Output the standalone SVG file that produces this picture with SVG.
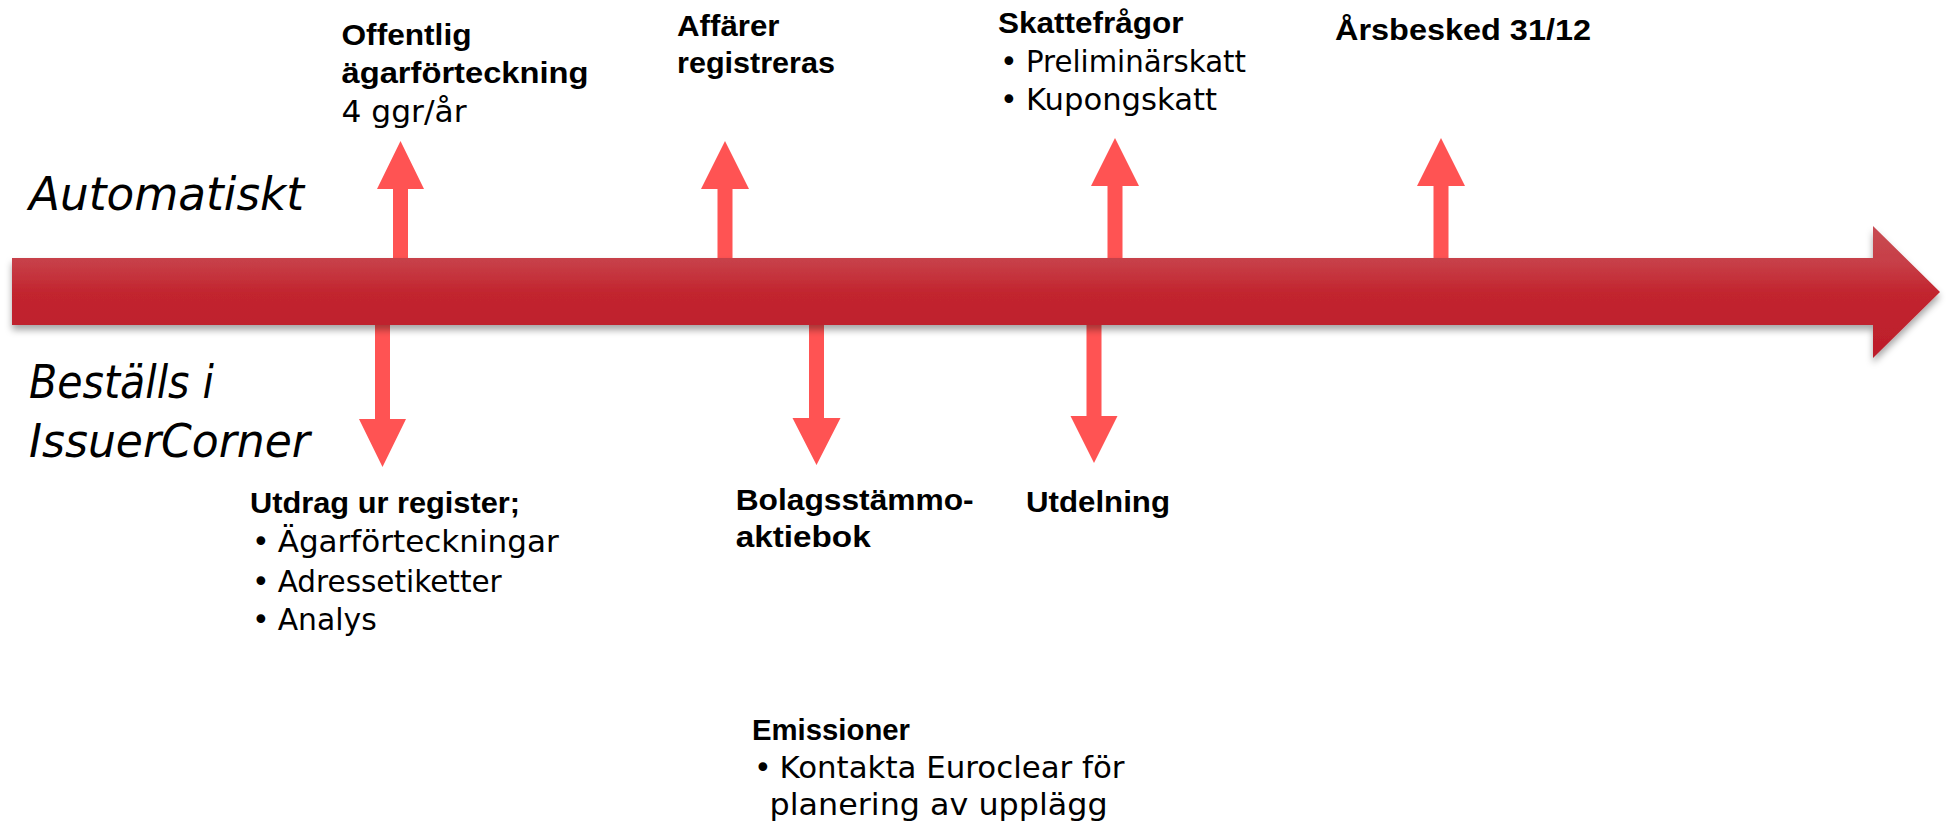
<svg xmlns="http://www.w3.org/2000/svg" width="1947" height="828" viewBox="0 0 1947 828">
<defs>
<linearGradient id="mainGrad" gradientUnits="userSpaceOnUse" x1="0" y1="226" x2="0" y2="359">
<stop offset="0" stop-color="#C84C53"/>
<stop offset="0.28" stop-color="#C73E47"/>
<stop offset="0.5" stop-color="#C2252F"/>
<stop offset="1" stop-color="#BC1D2B"/>
</linearGradient>
<filter id="shadow" x="-5%" y="-20%" width="110%" height="160%">
<feDropShadow dx="0" dy="5" stdDeviation="3.5" flood-color="#000" flood-opacity="0.35"/>
</filter>
<style>
.sm{fill:#FF5353}
.b{font-family:"Liberation Sans",Arial,sans-serif;font-weight:bold;font-size:30px;fill:#000}
.r{font-family:"DejaVu Sans",sans-serif;font-size:30px;fill:#000}
.it{font-family:"DejaVu Sans",sans-serif;font-style:italic;font-size:46px;fill:#000}
</style>
</defs>
<rect width="1947" height="828" fill="#fff"/>

<g id="connectors">
<polygon class="sm" points="393,260 393,189 377,189 400.5,141 424,189 408,189 408,260"/>
<polygon class="sm" points="717.5,260 717.5,189 701,189 725,141 749,189 732.5,189 732.5,260"/>
<polygon class="sm" points="1107.5,260 1107.5,186 1091,186 1115,138 1139,186 1122.5,186 1122.5,260"/>
<polygon class="sm" points="1433.5,260 1433.5,186 1417,186 1441,138 1465,186 1448.5,186 1448.5,260"/>
<polygon class="sm" points="375,322 375,419 359,419 382.5,467 406,419 390,419 390,322"/>
<polygon class="sm" points="809,322 809,418 792.5,418 816.5,465 840.5,418 824,418 824,322"/>
<polygon class="sm" points="1086.5,322 1086.5,416 1070.5,416 1094,463 1117.5,416 1101.5,416 1101.5,322"/>
</g>

<g id="timeline">
<polygon points="12,258 1873,258 1873,226 1940,292 1873,358 1873,325 12,325" fill="url(#mainGrad)" filter="url(#shadow)"/>
</g>

<g id="label-automatiskt">
<text class="it" x="29" y="210" textLength="275" lengthAdjust="spacingAndGlyphs">Automatiskt</text>
</g>
<g id="label-bestalls">
<text class="it" x="29" y="398" textLength="185" lengthAdjust="spacingAndGlyphs">Beställs i</text>
<text class="it" x="29" y="457" textLength="281" lengthAdjust="spacingAndGlyphs">IssuerCorner</text>
</g>

<g id="node-agarforteckning">
<text class="b" x="341.5" y="45" textLength="130" lengthAdjust="spacingAndGlyphs">Offentlig</text>
<text class="b" x="341.5" y="83" textLength="247" lengthAdjust="spacingAndGlyphs">ägarförteckning</text>
<text class="r" x="341.5" y="122" textLength="125" lengthAdjust="spacingAndGlyphs">4 ggr/år</text>
</g>

<g id="node-affarer">
<text class="b" x="677" y="36" textLength="102.5" lengthAdjust="spacingAndGlyphs">Affärer</text>
<text class="b" x="677" y="73" textLength="158" lengthAdjust="spacingAndGlyphs">registreras</text>
</g>

<g id="node-skattefragor">
<text class="b" x="998" y="33" textLength="185.5" lengthAdjust="spacingAndGlyphs">Skattefrågor</text>
<text class="r" x="1000" y="72">•</text>
<text class="r" x="1026" y="72" textLength="220" lengthAdjust="spacingAndGlyphs">Preliminärskatt</text>
<text class="r" x="1000" y="110">•</text>
<text class="r" x="1026" y="110" textLength="191" lengthAdjust="spacingAndGlyphs">Kupongskatt</text>
</g>

<g id="node-arsbesked">
<text class="b" x="1335" y="40" textLength="256" lengthAdjust="spacingAndGlyphs">Årsbesked 31/12</text>
</g>

<g id="node-utdrag">
<text class="b" x="250" y="513" textLength="270" lengthAdjust="spacingAndGlyphs">Utdrag ur register;</text>
<text class="r" x="252" y="552">•</text>
<text class="r" x="277.7" y="552" textLength="281" lengthAdjust="spacingAndGlyphs">Ägarförteckningar</text>
<text class="r" x="252" y="592">•</text>
<text class="r" x="277.7" y="592" textLength="224" lengthAdjust="spacingAndGlyphs">Adressetiketter</text>
<text class="r" x="252" y="630">•</text>
<text class="r" x="277.7" y="630" textLength="99" lengthAdjust="spacingAndGlyphs">Analys</text>
</g>

<g id="node-bolagsstamma">
<text class="b" x="735.7" y="510" textLength="238" lengthAdjust="spacingAndGlyphs">Bolagsstämmo-</text>
<text class="b" x="735.7" y="547" textLength="135" lengthAdjust="spacingAndGlyphs">aktiebok</text>
</g>

<g id="node-utdelning">
<text class="b" x="1026" y="512" textLength="144" lengthAdjust="spacingAndGlyphs">Utdelning</text>
</g>

<g id="node-emissioner">
<text class="b" x="752" y="740" textLength="158" lengthAdjust="spacingAndGlyphs">Emissioner</text>
<text class="r" x="754" y="778">•</text>
<text class="r" x="779.5" y="778" textLength="345" lengthAdjust="spacingAndGlyphs">Kontakta Euroclear för</text>
<text class="r" x="769.6" y="815" textLength="338" lengthAdjust="spacingAndGlyphs">planering av upplägg</text>
</g>
</svg>
